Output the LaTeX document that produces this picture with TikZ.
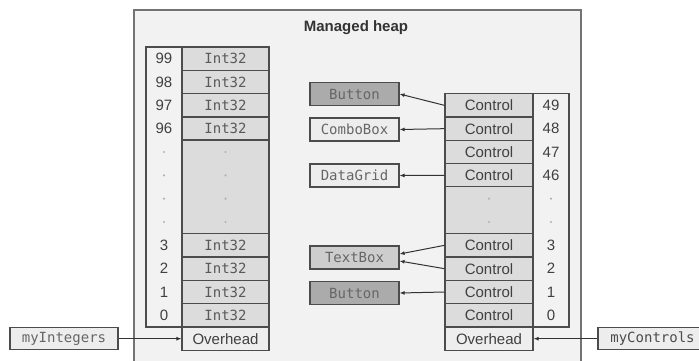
\documentclass[tikz,border=0pt]{standalone}
\usepackage{fontspec}
\setmainfont{Liberation Sans}
\setmonofont{DejaVu Sans Mono}
\usetikzlibrary{arrows.meta}
\definecolor{heapbg}{HTML}{F2F2F2}
\definecolor{cellbg}{HTML}{DCDCDC}
\definecolor{darkobj}{HTML}{ABABAB}
\definecolor{midobj}{HTML}{CDCDCD}
\definecolor{lightobj}{HTML}{EDEDED}
\begin{document}
\begin{tikzpicture}[x=1pt,y=-1pt,
  font=\fontsize{15}{17}\selectfont,
  frame/.style={draw=black!70,line width=1.1pt,fill=heapbg},
  cell/.style={draw=black!70,line width=1.1pt,fill=cellbg,minimum width=87pt,minimum height=23.33pt,inner sep=0pt,text=black!75},
  intcell/.style={cell,font=\ttfamily\fontsize{14}{16}\selectfont,text=black!65},
  ctlcell/.style={cell,minimum width=88pt},
  idx/.style={inner sep=0pt,text=black!75},
  obj/.style={draw=black!70,line width=1.1pt,minimum width=89pt,minimum height=23pt,inner sep=0pt,font=\ttfamily\fontsize{14}{16}\selectfont,text=black!60},
  dot/.style={fill=black!30},
  ref/.style={-{Latex[length=5pt,width=4pt]},line width=1pt,draw=black!80}]
\useasboundingbox (0,0) rectangle (699,360);
\clip (0,0) rectangle (699,360);
% managed heap
\draw[draw=black!55,line width=1.3pt,fill=heapbg] (134,370) -- (134,10) -- (581,10) -- (581,370);
\node[font=\bfseries\fontsize{15}{17}\selectfont,text=black!80] (title) at (356,28) {Managed heap};
% Int32 array
\draw[frame] (146,47) rectangle (269,327);
\node[intcell] (i99) at (225.5,58.67) {Int32};
\node[intcell] (i98) at (225.5,82) {Int32};
\node[intcell] (i97) at (225.5,105.33) {Int32};
\node[intcell] (i96) at (225.5,128.67) {Int32};
\node[cell,minimum height=93.33pt] (igap) at (225.5,186.67) {};
\node[intcell] (i3) at (225.5,245.33) {Int32};
\node[intcell] (i2) at (225.5,268.67) {Int32};
\node[intcell] (i1) at (225.5,292) {Int32};
\node[intcell] (i0) at (225.5,315.33) {Int32};
\node[cell,fill=heapbg!80!cellbg] (iover) at (225.5,338.67) {Overhead};
\node[idx] (n99) at (164,58.67) {99};
\node[idx] (n98) at (164,82) {98};
\node[idx] (n97) at (164,105.33) {97};
\node[idx] (n96) at (164,128.67) {96};
\node[idx] (n3) at (164,245.33) {3};
\node[idx] (n2) at (164,268.67) {2};
\node[idx] (n1) at (164,292) {1};
\node[idx] (n0) at (164,315.33) {0};
\fill[dot] (164,152) circle [radius=1.2pt] (164,175.33) circle [radius=1.2pt]
  (164,198.67) circle [radius=1.2pt] (164,222) circle [radius=1.2pt];
\fill[dot] (225.5,152) circle [radius=1.2pt] (225.5,175.33) circle [radius=1.2pt]
  (225.5,198.67) circle [radius=1.2pt] (225.5,222) circle [radius=1.2pt];
% Control array
\draw[frame] (445,93.67) rectangle (569,327);
\node[ctlcell] (c49) at (489,105.33) {Control};
\node[ctlcell] (c48) at (489,128.67) {Control};
\node[ctlcell] (c47) at (489,152) {Control};
\node[ctlcell] (c46) at (489,175.33) {Control};
\node[ctlcell,minimum height=46.67pt] (cgap) at (489,210) {};
\node[ctlcell] (c3) at (489,245.33) {Control};
\node[ctlcell] (c2) at (489,268.67) {Control};
\node[ctlcell] (c1) at (489,292) {Control};
\node[ctlcell] (c0) at (489,315.33) {Control};
\node[ctlcell,fill=heapbg!80!cellbg] (cover) at (489,338.67) {Overhead};
\node[idx] (m49) at (551,105.33) {49};
\node[idx] (m48) at (551,128.67) {48};
\node[idx] (m47) at (551,152) {47};
\node[idx] (m46) at (551,175.33) {46};
\node[idx] (m3) at (551,245.33) {3};
\node[idx] (m2) at (551,268.67) {2};
\node[idx] (m1) at (551,292) {1};
\node[idx] (m0) at (551,315.33) {0};
\fill[dot] (551,198.67) circle [radius=1.2pt] (551,222) circle [radius=1.2pt];
\fill[dot] (489,198.67) circle [radius=1.2pt] (489,222) circle [radius=1.2pt];
% objects
\node[obj,fill=darkobj] (button) at (354.5,94) {Button};
\node[obj,fill=lightobj] (combo) at (354.5,129.5) {ComboBox};
\node[obj,fill=lightobj] (grid) at (354.5,175.5) {DataGrid};
\node[obj,fill=midobj] (tbox) at (354.5,257.5) {TextBox};
\node[obj,fill=darkobj] (button2) at (354.5,293) {Button};
% roots
\node[obj,fill=lightobj,minimum width=108pt,minimum height=22pt] (myint) at (64,338.67) {myIntegers};
\node[obj,fill=lightobj,minimum width=109pt,minimum height=22pt,text=black!70] (myctrl) at (652.5,338.67) {myControls};
% references
\draw[ref] (c49.west) -- (button.east);
\draw[ref] (c48.west) -- (combo.east);
\draw[ref] (c46.west) -- (grid.east);
\draw[ref] (c3.west) -- ([yshift=3.5pt]tbox.east);
\draw[ref] (c2.west) -- ([yshift=-3.5pt]tbox.east);
\draw[ref] (c1.west) -- (button2.east);
\draw[ref] (myint.east) -- (iover.west);
\draw[ref] (myctrl.west) -- (cover.east);
\end{tikzpicture}
\end{document}
